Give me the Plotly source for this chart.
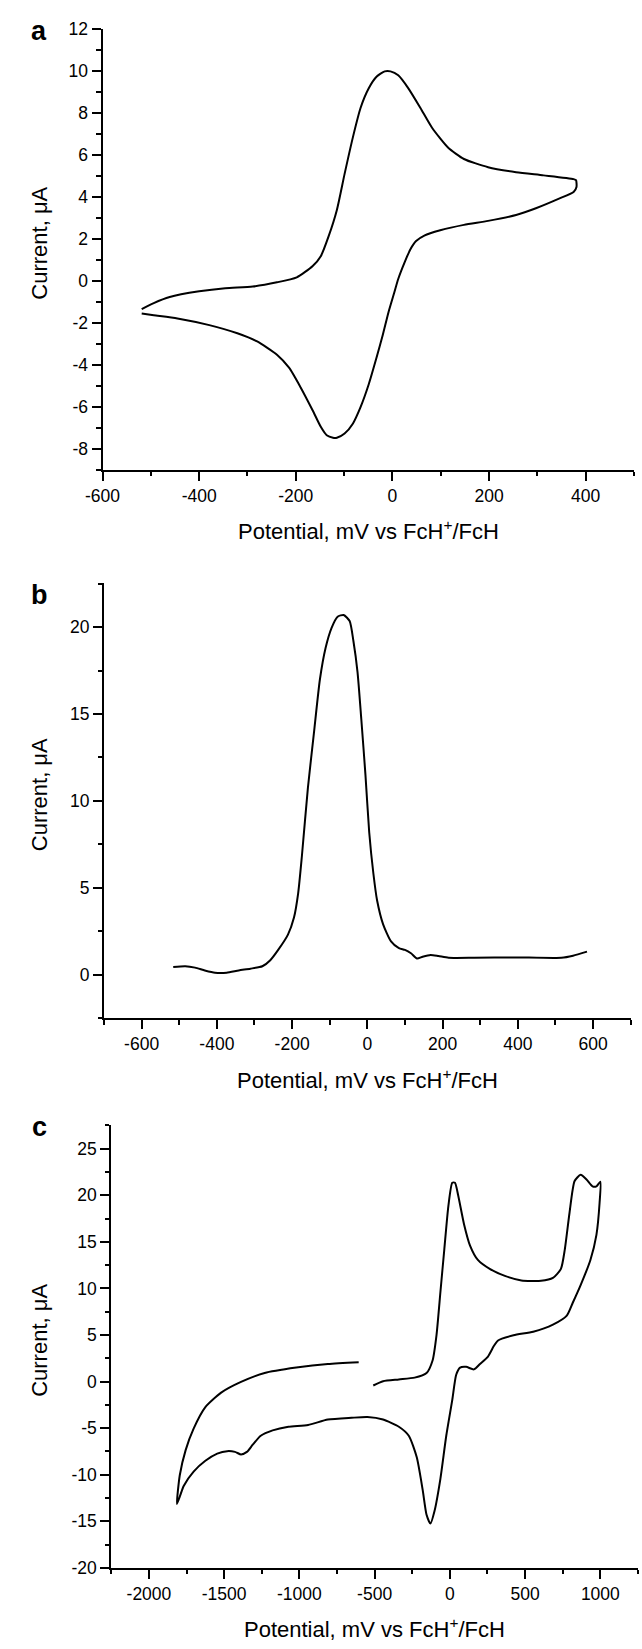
import plotly.graph_objects as go

# panel a - cyclic voltammogram
a_potential = [-519, -494, -461, -400, -346, -289, -239, -198, -165, -148, -132, -115, -99, -82, -66,
               -49, -33, -16, -4, 12, 33, 58, 82, 115, 148, 198, 256, 313, 375, 380,
               381, 375, 346, 297, 256, 198, 148, 99, 66, 49, 37, 25, 12, 4, -8, -20, -33, -49,
               -66, -82, -99, -115, -123, -136, -148, -165, -190, -214, -239, -280, -321, -379,
               -445, -494, -519]
a_current = [-1.35, -1.06, -0.77, -0.5, -0.35, -0.27, -0.07, 0.17, 0.71, 1.19, 2.13, 3.38, 5.1, 6.83, 8.24,
             9.18, 9.73, 9.99, 9.99, 9.8, 9.18, 8.24, 7.3, 6.36, 5.81, 5.42, 5.18, 5.03, 4.85, 4.8,
             4.48, 4.24, 3.93, 3.46, 3.14, 2.86, 2.67, 2.41, 2.16, 1.9, 1.5, 0.87, 0.09, -0.54, -1.48,
             -2.58, -3.67, -4.93, -6.02, -6.81, -7.28, -7.48, -7.48, -7.36, -6.97, -6.18, -5.08, -4.14,
             -3.52, -2.89, -2.5, -2.11, -1.79, -1.64, -1.56]

# panel b - differential pulse
b_potential = [-516, -484, -458, -432, -405, -374, -342, -311, -279, -258, -237, -211, -195, -184, -174,
               -158, -142, -126, -111, -95, -79, -63, -47, -37, -26, -16, -5, 5, 16, 26, 42, 63, 84,
               100, 116, 132, 147, 168, 189, 216, 284, 389, 516, 547, 584]
b_current = [0.45, 0.49, 0.41, 0.25, 0.12, 0.12, 0.25, 0.35, 0.49, 0.84, 1.43, 2.31, 3.29, 4.67, 6.82,
             10.75, 13.9, 17.0, 18.8, 19.96, 20.6, 20.7, 20.35, 19.2, 17.4, 14.7, 11.5, 8.2, 5.84, 4.27,
             2.9, 1.92, 1.53, 1.43, 1.24, 0.94, 1.04, 1.14, 1.08, 0.98, 0.98, 1.0, 0.98, 1.1, 1.33]

# panel c - wide range scan
c_potential = [-509, -444, -339, -234, -155, -115, -89, -63, -37, -10, 16, 34, 55, 94, 134, 186, 265,
               370, 475, 606, 685, 738, 764, 795, 829, 869, 908, 948, 974, 1000,
               995, 974, 934, 869, 816, 777, 685, 554, 423, 318, 292, 252, 200, 160, 108, 68, 42, 16,
               -24, -63, -102, -129, -155, -181, -220, -273, -339, -444, -548, -654, -811, -942,
               -1073, -1178, -1257, -1310, -1349, -1388, -1428, -1480, -1546, -1625, -1703, -1769,
               -1795, -1814,
               -1795, -1756, -1703, -1625, -1520, -1388, -1231, -1021, -811, -606]
c_current = [-0.42, 0.04, 0.23, 0.42, 0.92, 2.27, 4.97, 9.59, 14.2, 18.84, 21.34, 21.34, 20.0, 16.9,
             14.6, 13.06, 12.1, 11.32, 10.86, 10.82, 11.13, 12.1, 14.2, 18.1, 21.53, 22.2, 21.7, 20.96,
             20.96, 21.46,
             19.2, 15.76, 13.06, 10.36, 8.44, 7.09, 6.12, 5.35, 4.97, 4.39, 3.81, 2.66, 1.89, 1.31,
             1.58, 1.5, 0.73, -1.96, -5.82, -10.44, -13.9, -15.25, -14.3, -11.6, -8.13, -5.82, -4.85,
             -4.08, -3.81, -3.89, -4.08, -4.66, -4.85, -5.24, -5.82, -6.78, -7.55, -7.82, -7.55, -7.47,
             -7.74, -8.51, -9.67, -11.21, -12.36, -13.14,
             -10.06, -7.36, -5.05, -2.74, -1.19, -0.04, 0.92, 1.5, 1.89, 2.08]

# tick labels (hyphen minus like the original)
a_xticks = [-600, -400, -200, 0, 200, 400]
a_yticks = [-8, -6, -4, -2, 0, 2, 4, 6, 8, 10, 12]
b_xticks = [-600, -400, -200, 0, 200, 400, 600]
b_yticks = [0, 5, 10, 15, 20]
c_xticks = [-2000, -1500, -1000, -500, 0, 500, 1000]
c_yticks = [-20, -15, -10, -5, 0, 5, 10, 15, 20, 25]

W, H = 642, 1649
FONT = "Liberation Sans, Arial, Helvetica, sans-serif"
x_title = "Potential, mV vs FcH<sup>+</sup>/FcH"
y_title = "Current, \u03bcA"

# pixel boxes of each plot area: left, right, top, bottom
boxes = {
    "a": (87, 634, 20, 466),
    "b": (88.5, 630.5, 581, 1021),
    "c": (96, 638, 1129, 1577),
}


def px_x(v):
    return v / W


def px_y(v):
    return 1 - v / H


def axis_pair(box, xr, yr, xt, yt, xminor, yminor):
    l, r, t, b = box
    common = dict(showline=True, linecolor="black", linewidth=2, mirror=False,
                  showgrid=False, zeroline=False, ticks="outside", ticklen=9,
                  tickwidth=1.8, tickcolor="black", tickmode="array",
                  tickfont=dict(family=FONT, size=17.5, color="black"))
    xa = dict(common, domain=[px_x(l), px_x(r)], range=xr,
              tickvals=xt, ticktext=[str(v) for v in xt],
              minor=dict(tickmode="linear", tick0=0, dtick=xminor, ticks="outside",
                         ticklen=4.5, tickwidth=1.5, tickcolor="black"))
    ya = dict(common, domain=[px_y(b), px_y(t)], range=yr,
              tickvals=yt, ticktext=[str(v) for v in yt],
              minor=dict(tickmode="linear", tick0=0, dtick=yminor, ticks="outside",
                         ticklen=4.5, tickwidth=1.5, tickcolor="black"))
    return xa, ya


xa1, ya1 = axis_pair(boxes["a"], [-600, 500.5], [-9, 12.02], a_xticks, a_yticks, 100, 1)
xa2, ya2 = axis_pair(boxes["b"], [-700, 700.5], [-2.5, 22.52], b_xticks, b_yticks, 100, 2.5)
xa3, ya3 = axis_pair(boxes["c"], [-2250, 1251], [-20, 27.55], c_xticks, c_yticks, 250, 2.5)
ya1["anchor"] = "x"
xa1["anchor"] = "y"
xa2["anchor"] = "y2"
ya2["anchor"] = "x2"
xa3["anchor"] = "y3"
ya3["anchor"] = "x3"

line = dict(color="black", width=2, shape="spline", smoothing=0.6)
traces = [
    go.Scatter(x=a_potential, y=a_current, mode="lines", line=line, xaxis="x", yaxis="y"),
    go.Scatter(x=b_potential, y=b_current, mode="lines", line=line, xaxis="x2", yaxis="y2"),
    go.Scatter(x=c_potential, y=c_current, mode="lines", line=line, xaxis="x3", yaxis="y3"),
]

annotations = []
for name, box in boxes.items():
    l, r, t, b = box
    # panel letter
    annotations.append(dict(text="<b>%s</b>" % name, x=px_x(22), y=px_y(t + 2 if name != "b" else t + 12),
                            xref="paper", yref="paper", showarrow=False,
                            xanchor="center", yanchor="middle",
                            font=dict(family=FONT, size=27, color="black")))
    # x title
    annotations.append(dict(text=x_title, x=px_x((l + r) / 2), y=px_y(b + 61),
                            xref="paper", yref="paper", showarrow=False,
                            xanchor="center", yanchor="middle",
                            font=dict(family=FONT, size=22, color="black")))
    # y title
    annotations.append(dict(text=y_title, x=px_x(22), y=px_y((t + b) / 2 - 6),
                            xref="paper", yref="paper", showarrow=False, textangle=-90,
                            xanchor="center", yanchor="middle",
                            font=dict(family=FONT, size=22, color="black")))

layout = go.Layout(
    width=W, height=H, autosize=False,
    margin=dict(l=0, r=0, t=0, b=0),
    paper_bgcolor="white", plot_bgcolor="white",
    showlegend=False,
    xaxis=xa1, yaxis=ya1, xaxis2=xa2, yaxis2=ya2, xaxis3=xa3, yaxis3=ya3,
    annotations=annotations,
)

fig = go.Figure(data=traces, layout=layout)
# the page body has a default 8px margin; drop it so the figure sits at 0,0
fig.write_html("out.html", config={"displayModeBar": False},
               post_script="document.body.style.margin='0';document.body.style.overflow='hidden';")
